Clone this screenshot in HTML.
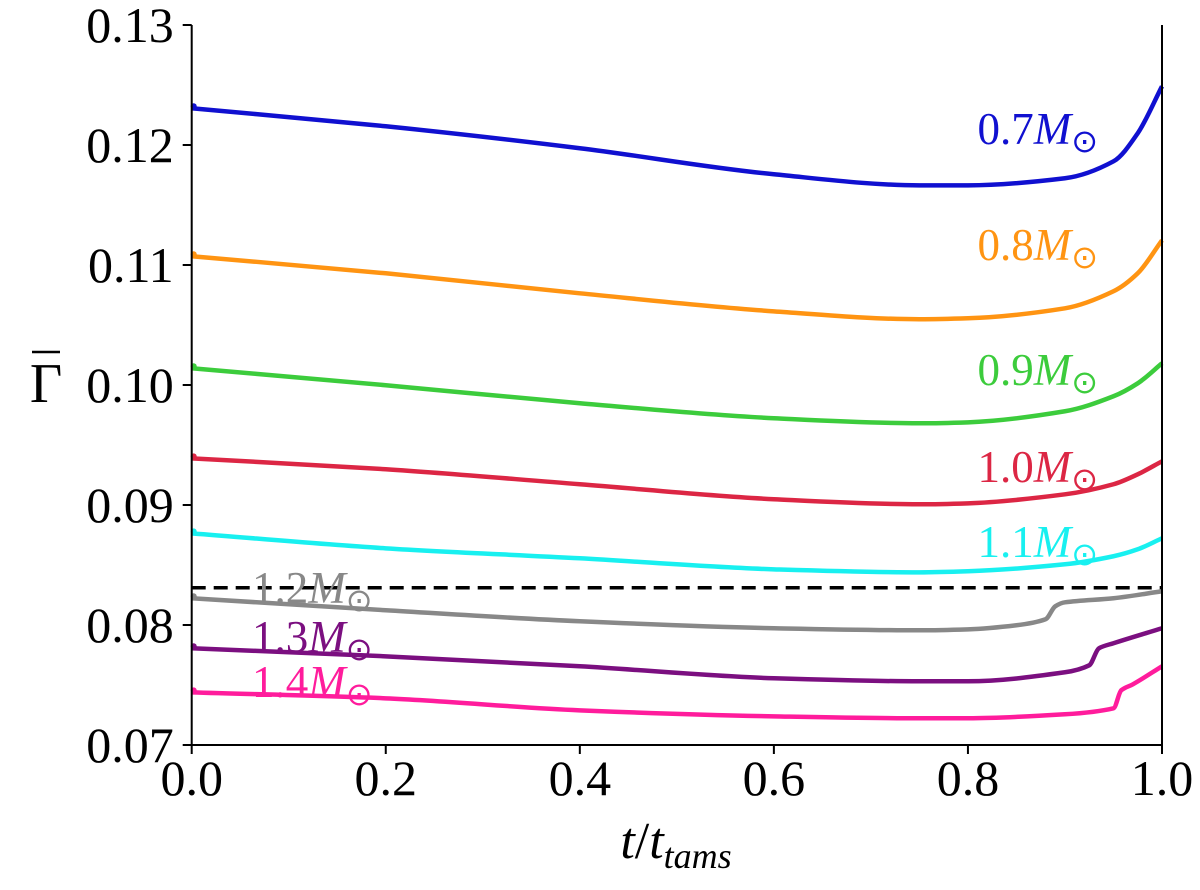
<!DOCTYPE html>
<html><head><meta charset="utf-8"><style>
body{margin:0;background:#fff;}
svg text{font-family:"Liberation Serif",serif;}
</style></head><body>
<svg id="chart" width="1200" height="885" viewBox="0 0 1200 885" xmlns="http://www.w3.org/2000/svg">
<g id="plot"></g>
<g id="axes"></g>
<g id="labels"></g>
<g>
<text x="46" y="402" font-size="56" text-anchor="middle">Γ</text>
<line x1="32" x2="60" y1="352" y2="352" stroke="#000" stroke-width="2.5"/>
</g>
<text x="676" y="858" font-size="52" text-anchor="middle"><tspan font-style="italic">t</tspan>/<tspan font-style="italic">t</tspan><tspan font-style="italic" font-size="36" dy="10">tams</tspan></text>
</svg>
<script>
const xTicks=[0,0.2,0.4,0.6,0.8,1.0];
const xTickLabels=["0.0","0.2","0.4","0.6","0.8","1.0"];
const yTicks=[0.07,0.08,0.09,0.10,0.11,0.12,0.13];
const yTickLabels=["0.07","0.08","0.09","0.10","0.11","0.12","0.13"];
const tCommon=[0,0.2,0.4,0.6,0.75,0.8,0.9,0.95,0.975,1.0];
const g07=[0.12306,0.12156,0.11973,0.11756,0.11664,0.11664,0.11723,0.11864,0.12098,0.12489];
const g08=[0.11073,0.10931,0.10764,0.10614,0.10548,0.10556,0.10639,0.10781,0.10931,0.11206];
const g09=[0.10140,0.09998,0.09848,0.09723,0.09681,0.09689,0.09781,0.09906,0.10014,0.10181];
const g10=[0.09389,0.09298,0.09173,0.09048,0.09006,0.09014,0.09089,0.09173,0.09256,0.09364];
const g11=[0.08764,0.08639,0.08556,0.08464,0.08439,0.08448,0.08506,0.08573,0.08631,0.08723];
const t12=[0,0.2,0.4,0.6,0.75,0.8,0.85,0.88,0.89,0.9,0.95,1.0];
const g12=[0.08223,0.08123,0.08031,0.07973,0.07956,0.07964,0.07998,0.08048,0.08156,0.08189,0.08223,0.08281];
const t13=[0,0.2,0.4,0.6,0.75,0.8,0.9,0.925,0.935,0.95,1.0];
const g13=[0.07806,0.07739,0.07656,0.07556,0.07531,0.07531,0.07606,0.07664,0.07806,0.07848,0.07973];
const t14=[0,0.2,0.4,0.6,0.75,0.8,0.9,0.95,0.958,0.97,1.0];
const g14=[0.07439,0.07389,0.07289,0.07239,0.07223,0.07223,0.07256,0.07306,0.07456,0.07506,0.07656];
const threshold=0.0831;
const massLabels=["0.7","0.8","0.9","1.0","1.1","1.2","1.3","1.4"];

const X0=191.7,X1=1162,Y0=745,Y1=25;
const xs=v=>X0+(v-0)/(1-0)*(X1-X0);
const ys=v=>Y0-(v-0.07)/(0.13-0.07)*(Y0-Y1);
const NS="http://www.w3.org/2000/svg";
function mk(tag,parent){const e=document.createElementNS(NS,tag);parent.appendChild(e);return e;}
const plot=document.getElementById('plot'),axes=document.getElementById('axes'),labels=document.getElementById('labels');

function monoPath(px,py){
 const n=px.length,d=[],m=new Array(n);
 for(let i=0;i<n-1;i++)d.push((py[i+1]-py[i])/(px[i+1]-px[i]));
 m[0]=d[0];m[n-1]=d[n-2];
 for(let i=1;i<n-1;i++){m[i]=(d[i-1]*d[i]<=0)?0:2/(1/d[i-1]+1/d[i]);}
 let s='M'+px[0]+','+py[0];
 for(let i=0;i<n-1;i++){const h=px[i+1]-px[i];
  s+=' C'+(px[i]+h/3)+','+(py[i]+m[i]*h/3)+' '+(px[i+1]-h/3)+','+(py[i+1]-m[i+1]*h/3)+' '+px[i+1]+','+py[i+1];}
 return s;
}

const series=[
 {t:tCommon,v:g07,c:"#1010d0",lx:1098,anchor:"end"},
 {t:tCommon,v:g08,c:"#ff9412",lx:1098,anchor:"end"},
 {t:tCommon,v:g09,c:"#3ccc3c",lx:1098,anchor:"end"},
 {t:tCommon,v:g10,c:"#dc2644",lx:1098,anchor:"end"},
 {t:tCommon,v:g11,c:"#18f0f0",lx:1098,anchor:"end"},
 {t:t12,v:g12,c:"#888888",lx:252,anchor:"start"},
 {t:t13,v:g13,c:"#7b0f80",lx:252,anchor:"start"},
 {t:t14,v:g14,c:"#ff1c9c",lx:252,anchor:"start"}
];
const dl=mk('line',plot);


dl.setAttribute('x1',X0);dl.setAttribute('x2',X1);dl.setAttribute('y1',ys(threshold));dl.setAttribute('y2',ys(threshold));
dl.setAttribute('stroke','#000');dl.setAttribute('stroke-width','3.5');dl.setAttribute('stroke-dasharray','14,8');
series.forEach((s,i)=>{
 const p=mk('path',plot);
 
 
 p.setAttribute('d',monoPath(s.t.map(xs),s.v.map(ys)));
 p.setAttribute('fill','none');p.setAttribute('stroke',s.c);p.setAttribute('stroke-width','4.5');p.setAttribute('stroke-linejoin','round');
 const d=mk('circle',plot);
 
 
 d.setAttribute('cx',xs(0)+2);d.setAttribute('cy',ys(s.v[0])-2);d.setAttribute('r',3);d.setAttribute('fill',s.c);
});
const lpos=[144,260,385,482,557,603,652,697];
series.forEach((s,i)=>{
 const t=mk('text',labels);
 
 
 t.setAttribute('x',s.lx);t.setAttribute('y',lpos[i]);t.setAttribute('font-size','45');t.setAttribute('fill',s.c);t.setAttribute('text-anchor',s.anchor);
 t.innerHTML=massLabels[i]+'<tspan font-style="italic">M</tspan><tspan font-size="32" dy="8">⊙</tspan>';
});
const sp=[[X0,Y1,X0,Y0],[X0,Y0,X1,Y0],[X1,Y0,X1,Y1]];
sp.forEach((a,i)=>{const l=mk('line',axes);
 
 
 l.setAttribute('x1',a[0]);l.setAttribute('y1',a[1]);l.setAttribute('x2',a[2]);l.setAttribute('y2',a[3]);l.setAttribute('stroke','#000');l.setAttribute('stroke-width','2');});
xTicks.forEach((v,i)=>{
 const l=mk('line',axes);
 
 
 l.setAttribute('x1',xs(v));l.setAttribute('x2',xs(v));l.setAttribute('y1',Y0);l.setAttribute('y2',Y0+9);l.setAttribute('stroke','#000');l.setAttribute('stroke-width','2');
 const t=mk('text',axes);
 
 
 t.setAttribute('x',xs(v));t.setAttribute('y',Y0+50);t.setAttribute('font-size','50');t.setAttribute('text-anchor','middle');t.textContent=xTickLabels[i];
});
yTicks.forEach((v,i)=>{
 const l=mk('line',axes);
 
 
 l.setAttribute('x1',X0-9);l.setAttribute('x2',X0);l.setAttribute('y1',ys(v));l.setAttribute('y2',ys(v));l.setAttribute('stroke','#000');l.setAttribute('stroke-width','2');
 const t=mk('text',axes);
 
 
 t.setAttribute('x',X0-18);t.setAttribute('y',ys(v)+17);t.setAttribute('font-size','50');t.setAttribute('text-anchor','end');t.textContent=yTickLabels[i];
});
</script>
</body></html>
